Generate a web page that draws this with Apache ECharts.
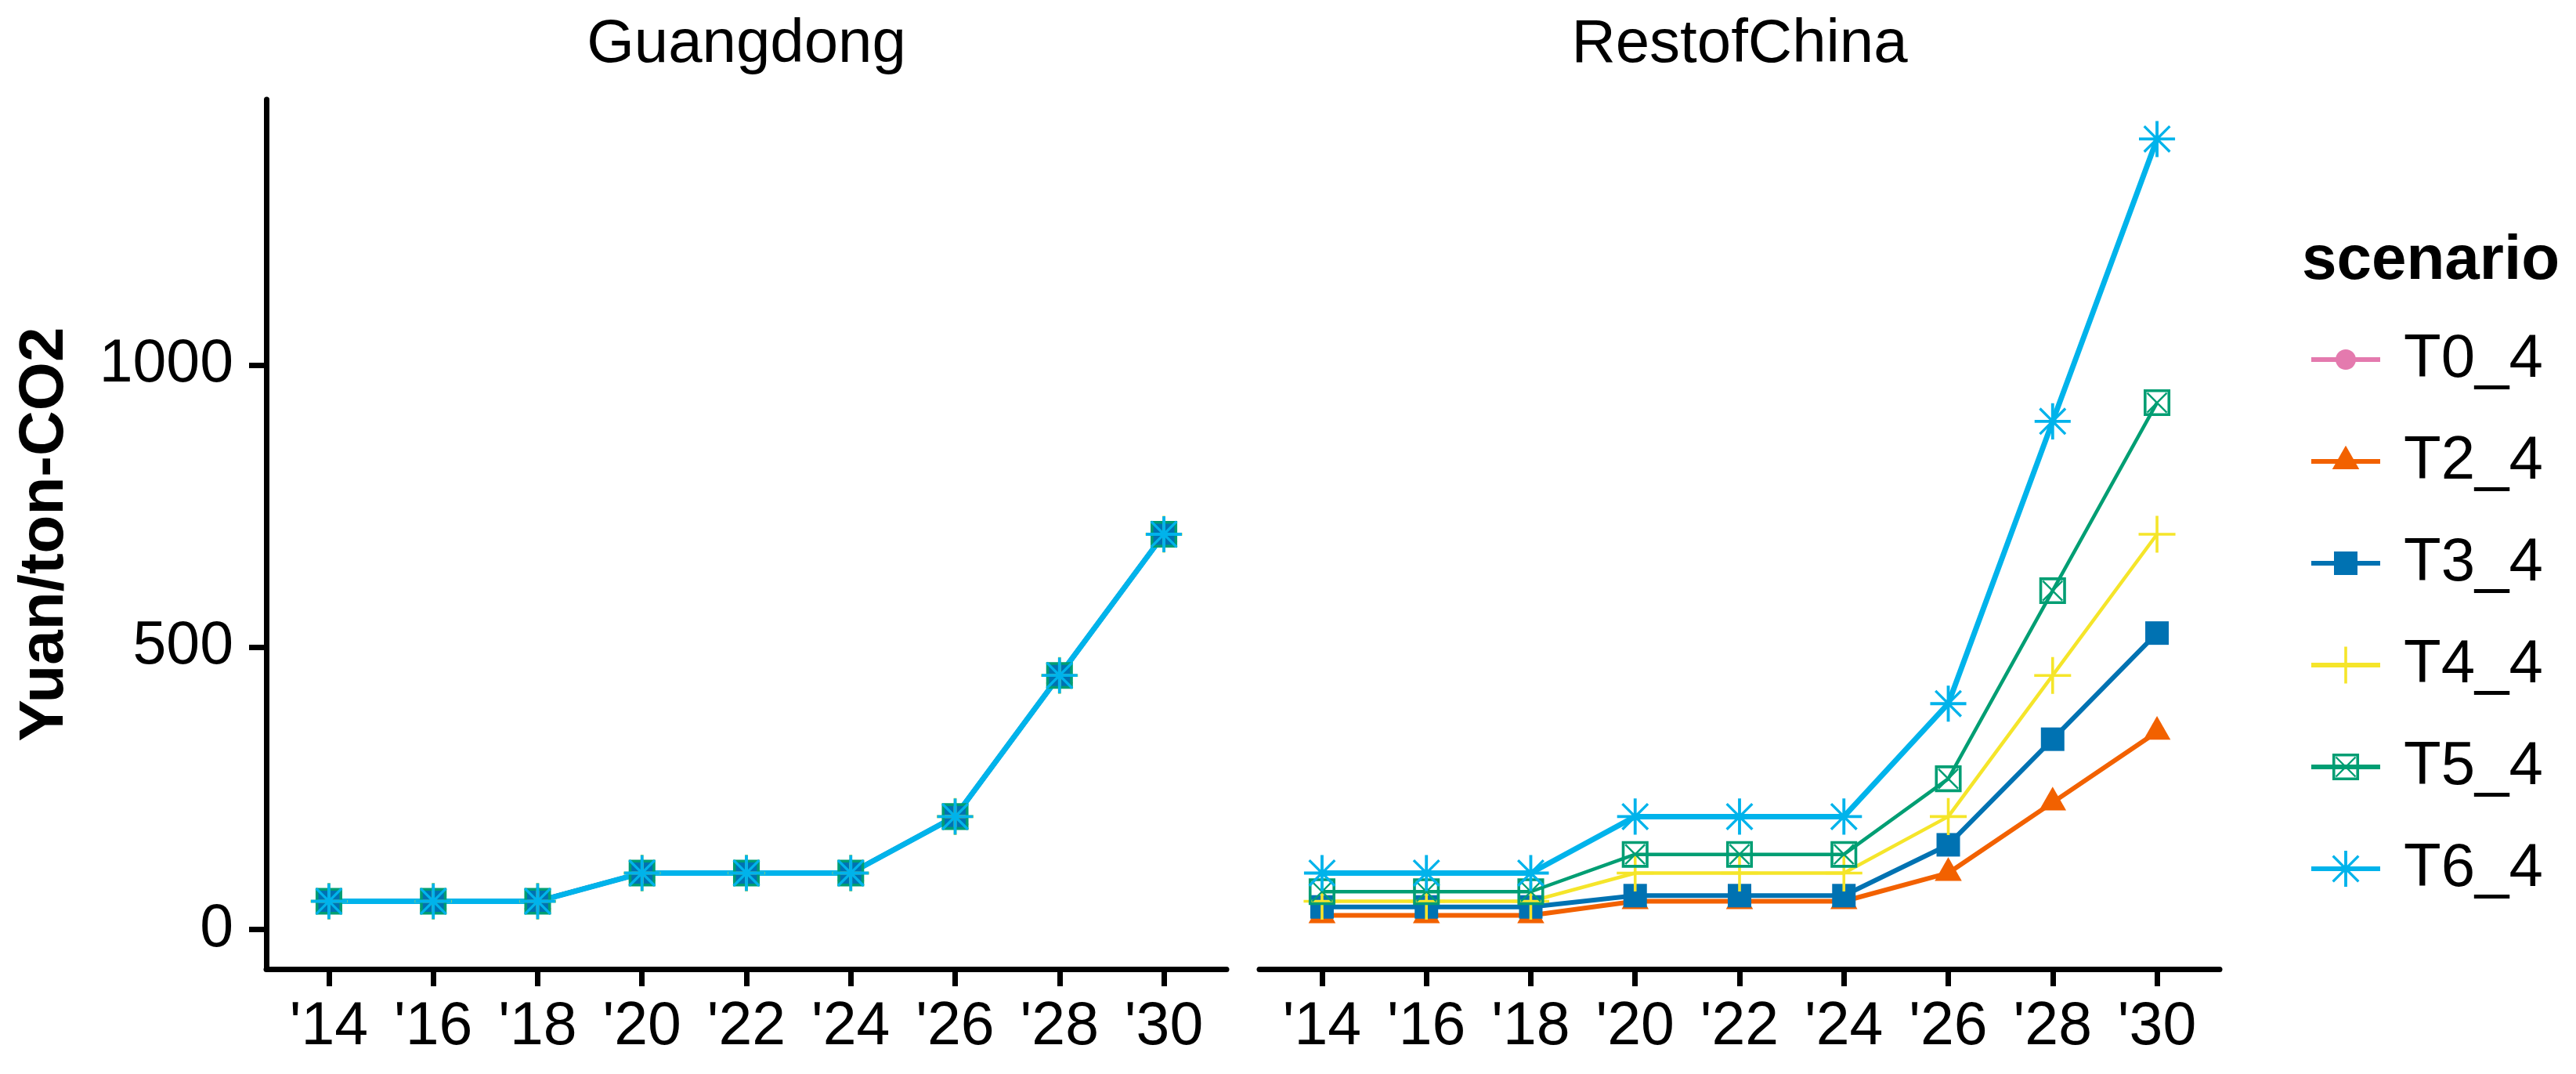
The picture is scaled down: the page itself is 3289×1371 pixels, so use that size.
<!DOCTYPE html>
<html><head><meta charset="utf-8">
<script src="https://cdn.jsdelivr.net/npm/echarts@6/dist/echarts.min.js"></script>
<style>html,body{margin:0;padding:0;background:#fff}#c{width:3289px;height:1371px}</style>
</head><body><div id="c"></div>
<script>
// ---------- data ----------
const years = [2014, 2016, 2018, 2020, 2022, 2024, 2026, 2028, 2030];
const yTicks = [0, 500, 1000];
const panels = ['Guangdong', 'RestofChina'];
const scenarios = ['T0_4', 'T2_4', 'T3_4', 'T4_4', 'T5_4', 'T6_4'];
const yTitle = 'Yuan/ton-CO2';
const legendTitle = 'scenario';

// Guangdong (all scenarios coincide)
const gd_T0 = [50, 50, 50, 100, 100, 100, 200, 450, 700];
const gd_T2 = [50, 50, 50, 100, 100, 100, 200, 450, 700];
const gd_T3 = [50, 50, 50, 100, 100, 100, 200, 450, 700];
const gd_T4 = [50, 50, 50, 100, 100, 100, 200, 450, 700];
const gd_T5 = [50, 50, 50, 100, 100, 100, 200, 450, 700];
const gd_T6 = [50, 50, 50, 100, 100, 100, 200, 450, 700];
// RestofChina
const roc_T0 = null;
const roc_T2 = [25, 25, 25, 50, 50, 50, 100, 225, 350];
const roc_T3 = [40, 40, 40, 60, 60, 60, 150, 337, 525];
const roc_T4 = [50, 50, 50, 100, 100, 100, 200, 450, 700];
const roc_T5 = [67, 67, 67, 133, 133, 133, 267, 600, 933];
const roc_T6 = [100, 100, 100, 200, 200, 200, 400, 900, 1400];

const gdData = [gd_T0, gd_T2, gd_T3, gd_T4, gd_T5, gd_T6];
const rocData = [roc_T0, roc_T2, roc_T3, roc_T4, roc_T5, roc_T6];

// ---------- style ----------
const colors = ['#E47AAE', '#F26100', '#0072B2', '#F5E52A', '#009E73', '#00B3EB'];
const lineWidths = [6, 6, 6, 4.5, 4.5, 7];
const FONT = '"Liberation Sans", Arial, sans-serif';

function f(n) { return n.toFixed(2); }
// thick segment polygon, positive winding
function seg(x1, y1, x2, y2, w) {
  const dx = x2 - x1, dy = y2 - y1, L = Math.hypot(dx, dy);
  const nx = dy / L * w / 2, ny = -dx / L * w / 2;
  return 'M' + f(x1 + nx) + ' ' + f(y1 + ny) + ' L' + f(x2 + nx) + ' ' + f(y2 + ny) +
    ' L' + f(x2 - nx) + ' ' + f(y2 - ny) + ' L' + f(x1 - nx) + ' ' + f(y1 - ny) + ' Z ';
}
const ANCH = 'M0 0 M100 100 ';
function rectPath(a, b) { return 'M' + a + ' ' + a + ' L' + b + ' ' + a + ' L' + b + ' ' + b + ' L' + a + ' ' + b + ' Z '; }
function rectHole(a, b) { return 'M' + a + ' ' + a + ' L' + a + ' ' + b + ' L' + b + ' ' + b + ' L' + b + ' ' + a + ' Z '; }
const symCircle = 'path://' + ANCH + 'M23 50 A27 27 0 1 0 77 50 A27 27 0 1 0 23 50 Z';
const symTri = 'path://' + ANCH + 'M50 8 L86 71 L14 71 Z';
const symSquare = 'path://' + ANCH + rectPath(18.75, 81.25);
const symPlus = 'path://' + ANCH + seg(1, 50, 99, 50, 7.5) + seg(50, 1, 50, 99, 7.5);
const symBoxX = 'path://' + ANCH + rectPath(14.5, 85.5) + rectHole(22, 78) +
  seg(24, 24, 76, 76, 5) + seg(24, 76, 76, 24, 5);
const symStar = 'path://' + ANCH + seg(2, 50, 98, 50, 8) + seg(50, 2, 50, 98, 8) +
  seg(16, 16, 84, 84, 7) + seg(16, 84, 84, 16, 7);
const symbols = [symCircle, symTri, symSquare, symPlus, symBoxX, symStar];

const series = [];
function addSeries(gridIdx, arr, i) {
  if (!arr) return;
  series.push({
    type: 'line', name: scenarios[i], xAxisIndex: gridIdx, yAxisIndex: gridIdx,
    data: years.map((y, k) => [y, arr[k]]),
    symbol: symbols[i], symbolSize: 48, showSymbol: true, clip: false,
    lineStyle: { color: colors[i], width: lineWidths[i] },
    itemStyle: { color: colors[i], borderWidth: 0 },
    emphasis: { disabled: true }, animation: false
  });
}
gdData.forEach((a, i) => addSeries(0, a, i));
rocData.forEach((a, i) => addSeries(1, a, i));

const gridTop = 127, gridH = 1110, gridW = 1226;
const grids = [
  { left: 340, top: gridTop, width: gridW, height: gridH },
  { left: 1608, top: gridTop, width: gridW, height: gridH }
];
function xAxis(i) {
  return {
    type: 'value', gridIndex: i, min: 2012.8, max: 2031.2,
    axisLine: { show: true, onZero: false, lineStyle: { color: '#000', width: 7 } },
    axisTick: { show: true, length: 22, customValues: years, lineStyle: { color: '#000', width: 7 } },
    axisLabel: { show: true, customValues: years, margin: 36, color: '#000', fontSize: 77, fontFamily: FONT,
      formatter: v => "'" + String(v).slice(2) },
    splitLine: { show: false }
  };
}
function yAxis(i) {
  return {
    type: 'value', gridIndex: i, min: -70, max: 1470, show: i === 0,
    axisLine: { show: i === 0, onZero: false, lineStyle: { color: '#000', width: 7 } },
    axisTick: { show: i === 0, length: 22, customValues: yTicks, lineStyle: { color: '#000', width: 7 } },
    axisLabel: { show: i === 0, customValues: yTicks, margin: 42, color: '#000', fontSize: 77, fontFamily: FONT,
      formatter: v => String(v) },
    splitLine: { show: false }
  };
}

const option = {
  backgroundColor: '#ffffff',
  animation: false,
  grid: grids,
  xAxis: [xAxis(0), xAxis(1)],
  yAxis: [yAxis(0), yAxis(1)],
  legend: {
    data: scenarios, orient: 'vertical', left: 2948, top: 420, padding: 0,
    itemWidth: 88, itemHeight: 60, itemGap: 52,
    lineStyle: { width: 6 },
    textStyle: { fontSize: 78, fontFamily: FONT, color: '#000', lineHeight: 60, padding: [0, 0, 0, 25] },
    selectedMode: false
  },
  graphic: [
    { type: 'text', x: 953, y: 57, style: { text: panels[0], font: '78px ' + FONT, fill: '#000', textAlign: 'center', textVerticalAlign: 'middle', align: 'center', verticalAlign: 'middle' } },
    { type: 'text', x: 2221, y: 57, style: { text: panels[1], font: '78px ' + FONT, fill: '#000', textAlign: 'center', textVerticalAlign: 'middle', align: 'center', verticalAlign: 'middle' } },
    { type: 'text', x: 58, y: 682, rotation: Math.PI / 2, style: { text: yTitle, font: 'bold 80px ' + FONT, fill: '#000', textAlign: 'center', textVerticalAlign: 'middle', align: 'center', verticalAlign: 'middle' } },
    { type: 'text', x: 2939, y: 334, style: { text: legendTitle, font: 'bold 80px ' + FONT, fill: '#000', textAlign: 'left', textVerticalAlign: 'middle', align: 'left', verticalAlign: 'middle' } }
  ],
  series: series
};
const chart = echarts.init(document.getElementById('c'), null, { renderer: 'canvas' });
chart.setOption(option);
</script></body></html>
